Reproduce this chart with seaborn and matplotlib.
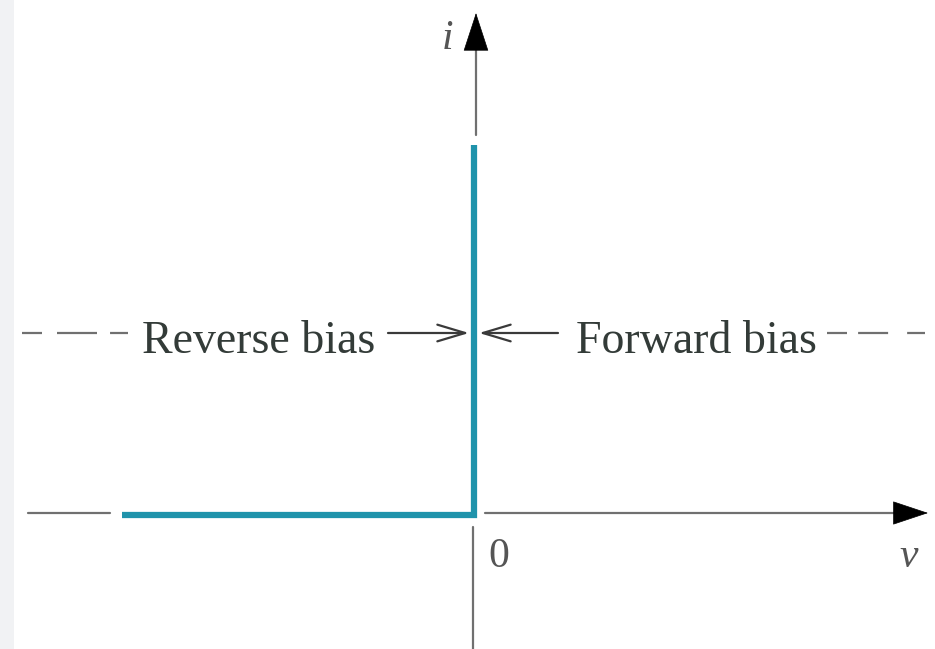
import matplotlib
matplotlib.use("Agg")
import matplotlib.pyplot as plt
import seaborn as sns
import pandas as pd

# Ideal diode i-v characteristic (schematic units, origin at 0,0)
voltage = [-352, 0, 0]
current = [0, 0, 370]
region_labels = ["Reverse bias", "Forward bias"]
axis_labels = ["i", "v", "0"]

sns.set_theme(style="white")
plt.rcParams["lines.scale_dashes"] = False
plt.rcParams["font.family"] = ["Liberation Serif", "DejaVu Serif"]

BLUE = "#1f93ab"
GRAY = "#707070"
INK = "#333b38"

fig = plt.figure(figsize=(9.35, 6.49), dpi=100)
ax = fig.add_axes([0, 0, 1, 1])
ax.set_xlim(-474, 461)
ax.set_ylim(-134, 515)
ax.axis("off")

# faint strip along the left edge
ax.axvspan(-474, -460, color="#f1f2f4", lw=0, zorder=0)

df = pd.DataFrame({"v": voltage, "i": current})
sns.lineplot(data=df, x="v", y="i", sort=False, estimator=None,
             color=BLUE, lw=4.5, ax=ax, zorder=3,
             solid_joinstyle="miter", solid_capstyle="butt")

# axes drawn as arrows
ax.plot([11, 421], [2, 2], color=GRAY, lw=1.6)
ax.plot([-446, -364], [2, 2], color=GRAY, lw=1.6)
ax.plot([2, 2], [380, 466], color=GRAY, lw=1.6)
ax.plot([-1, -1], [-12, -134], color=GRAY, lw=1.6)

ax.annotate("", xy=(454, 2), xytext=(420, 2),
            arrowprops=dict(arrowstyle="-|>,head_length=24,head_width=8",
                            mutation_scale=1, color="black", lw=0.5,
                            shrinkA=0, shrinkB=0))
ax.annotate("", xy=(2, 502), xytext=(2, 466),
            arrowprops=dict(arrowstyle="-|>,head_length=26,head_width=8.5",
                            mutation_scale=1, color="black", lw=0.5,
                            shrinkA=0, shrinkB=0))

# region markers
y_mid = 182
ax.plot([-452, -346], [y_mid, y_mid], color=GRAY, lw=1.6,
        dashes=(14.4, 10.8, 28.8, 9.4, 13, 200))
ax.plot([353, 451], [y_mid, y_mid], color=GRAY, lw=1.6,
        dashes=(14.4, 8, 21.6, 13.7, 13, 200))

ax.annotate("", xy=(-5, y_mid), xytext=(-86, y_mid),
            arrowprops=dict(arrowstyle="->,head_length=20,head_width=6",
                            mutation_scale=1, color="#3a3a3a", lw=1.6,
                            shrinkA=0, shrinkB=0))
ax.annotate("", xy=(5, y_mid), xytext=(84, y_mid),
            arrowprops=dict(arrowstyle="->,head_length=20,head_width=6",
                            mutation_scale=1, color="#3a3a3a", lw=1.6,
                            shrinkA=0, shrinkB=0))

ax.text(-215, 162, region_labels[0], ha="center", va="baseline",
        fontsize=33, color=INK)
ax.text(222, 162, region_labels[1], ha="center", va="baseline",
        fontsize=33, color=INK)

ax.text(-27, 466, axis_labels[0], ha="center", va="baseline",
        fontsize=30, color="#555555", style="italic")
ax.text(435, -52, axis_labels[1], ha="center", va="baseline",
        fontsize=30, color="#555555", style="italic")
ax.text(25, -52, axis_labels[2], ha="center", va="baseline",
        fontsize=30, color="#555555")

fig.savefig("out.png", dpi=100)
